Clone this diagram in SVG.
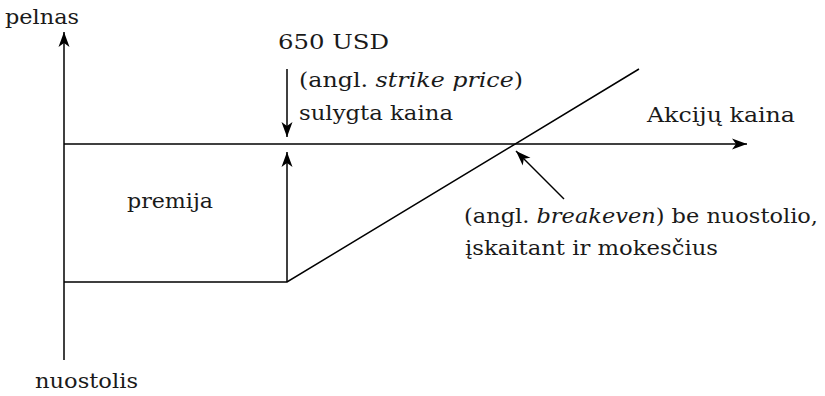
<svg xmlns="http://www.w3.org/2000/svg" width="825" height="396" viewBox="0 0 825 396">
<defs>
<style>
.t{font-family:'DejaVu Serif','Liberation Serif',serif;font-size:20px;fill:#1a1a1a}
.l{stroke:#000;stroke-width:1.5;fill:none}
</style>
<marker id="ah" markerWidth="18" markerHeight="14" refX="16" refY="7" orient="auto" markerUnits="userSpaceOnUse">
<path d="M16,7 L1,1.5 L5,7 L1,12.5 Z" fill="#000"/>
</marker>
</defs>
<rect width="825" height="396" fill="#fff"/>
<g id="connectors">
<line class="l" x1="64" y1="360" x2="64" y2="32" marker-end="url(#ah)"/>
<line class="l" x1="64" y1="144" x2="747" y2="144" marker-end="url(#ah)"/>
<polyline class="l" points="64,282 287,282 639,69"/>
<line class="l" x1="287" y1="282" x2="287" y2="152" marker-end="url(#ah)"/>
<line class="l" x1="287" y1="69" x2="287" y2="137" marker-end="url(#ah)"/>
<line class="l" x1="564" y1="199" x2="516" y2="151" marker-end="url(#ah)"/>
</g>
<g id="label-pelnas"><text class="t" x="5" y="24" textLength="74" lengthAdjust="spacingAndGlyphs">pelnas</text></g>
<g id="label-nuostolis"><text class="t" x="35" y="388" textLength="103" lengthAdjust="spacingAndGlyphs">nuostolis</text></g>
<g id="label-650"><text class="t" x="278" y="49" textLength="111" lengthAdjust="spacingAndGlyphs">650 USD</text></g>
<g id="label-strike">
<text class="t" x="299" y="87" textLength="224" lengthAdjust="spacingAndGlyphs">(angl. <tspan font-style="italic">strike price</tspan>)</text>
<text class="t" x="299" y="120" textLength="154" lengthAdjust="spacingAndGlyphs">sulygta kaina</text>
</g>
<g id="label-akciju"><text class="t" x="647" y="122" textLength="148" lengthAdjust="spacingAndGlyphs">Akcijų kaina</text></g>
<g id="label-premija"><text class="t" x="127" y="208" textLength="86" lengthAdjust="spacingAndGlyphs">premija</text></g>
<g id="label-breakeven">
<text class="t" x="464" y="223" textLength="354" lengthAdjust="spacingAndGlyphs">(angl. <tspan font-style="italic">breakeven</tspan>) be nuostolio,</text>
<text class="t" x="465" y="255" textLength="253" lengthAdjust="spacingAndGlyphs">įskaitant ir mokesčius</text>
</g>
</svg>
